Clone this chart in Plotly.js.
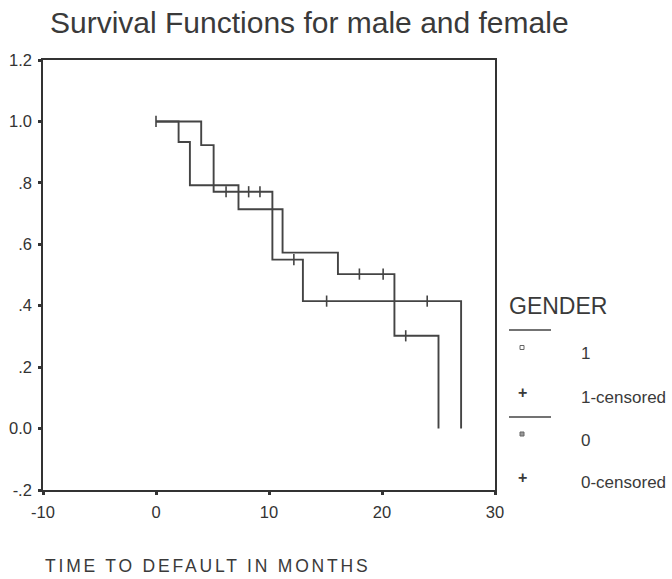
<!DOCTYPE html>
<html>
<head>
<meta charset="utf-8">
<script src="https://cdn.plot.ly/plotly-3.0.1.min.js"></script>
<style>html,body{margin:0;padding:0;background:#fff;}#chart{width:672px;height:579px;}</style>
</head>
<body>
<div id="chart"></div>
<script>
// Survival step curves (Kaplan-Meier)
var timeA = [0, 2, 3, 7.3, 11.2, 16.1, 21.1, 25];
var survA = [1.0, 0.933, 0.792, 0.714, 0.573, 0.503, 0.302, 0.0];
var censTimeA = [18, 20.1, 22.1];
var censSurvA = [0.503, 0.503, 0.302];

var timeB = [0, 4, 5.1, 10.3, 13, 27];
var survB = [1.0, 0.923, 0.771, 0.55, 0.415, 0.0];
var censTimeB = [0, 6.2, 8.2, 9.2, 12.2, 15.1, 24];
var censSurvB = [1.0, 0.771, 0.771, 0.771, 0.55, 0.415, 0.415];

var xTicks = [-10, 0, 10, 20, 30];
var yTicks = [-0.2, 0, 0.2, 0.4, 0.6, 0.8, 1.0, 1.2];
var yTickText = ['-.2', '0.0', '.2', '.4', '.6', '.8', '1.0', '1.2'];
var chartTitle = 'Survival Functions for male and female';
var xTitle = 'TIME TO DEFAULT IN MONTHS';
var legendTitle = 'GENDER';
var legendLabels = ['1', '1-censored', '0', '0-censored'];

var ink = '#444';
var font = 'Liberation Sans, Arial, sans-serif';

var traces = [
  {x: timeA, y: survA, mode: 'lines', line: {shape: 'hv', color: ink, width: 1.9}, showlegend: false, hoverinfo: 'skip'},
  {x: timeB, y: survB, mode: 'lines', line: {shape: 'hv', color: ink, width: 1.9}, showlegend: false, hoverinfo: 'skip'},
  {x: censTimeA, y: censSurvA, mode: 'markers', marker: {symbol: 'line-ns', size: 8, line: {color: ink, width: 1.6}}, showlegend: false, hoverinfo: 'skip'},
  {x: censTimeB, y: censSurvB, mode: 'markers', marker: {symbol: 'line-ns', size: 8, line: {color: ink, width: 1.6}}, showlegend: false, hoverinfo: 'skip'}
];

// legend and titles placed in paper coords: px -> paper
function px(v){ return (v - 43) / 452; }
function py(v){ return (490 - v) / 430; }

function label(x, y, text, size, anchor){
  return {xref: 'paper', yref: 'paper', x: px(x), y: py(y), xanchor: anchor || 'left', yanchor: 'middle',
          text: text, showarrow: false, borderpad: 0, font: {family: font, size: size, color: '#3a3a3a'}};
}

var annotations = [
  label(49, 23, chartTitle, 30),
  label(44, 566, '<span style="letter-spacing:2.8px">' + xTitle + '</span>', 17.5),
  label(508, 306, legendTitle, 23),
  label(580, 353, legendLabels[0], 17),
  label(580, 397, legendLabels[1], 17),
  label(580, 440, legendLabels[2], 17),
  label(580, 482, legendLabels[3], 17),
  label(522, 392, '<b>+</b>', 16, 'center'),
  label(522, 477, '<b>+</b>', 16, 'center')
];

var shapes = [
  {type: 'line', xref: 'paper', yref: 'paper', x0: px(509), x1: px(551), y0: py(330), y1: py(330), line: {color: ink, width: 1.5}},
  {type: 'line', xref: 'paper', yref: 'paper', x0: px(509), x1: px(551), y0: py(417), y1: py(417), line: {color: ink, width: 1.5}},
  {type: 'rect', xref: 'paper', yref: 'paper', x0: px(520), x1: px(524), y0: py(345.5), y1: py(349.5), line: {color: '#666', width: 1}, fillcolor: '#fff'},
  {type: 'rect', xref: 'paper', yref: 'paper', x0: px(520), x1: px(524), y0: py(432), y1: py(436), line: {color: '#666', width: 1}, fillcolor: '#999'}
];

var axisCommon = {showgrid: false, zeroline: false, showline: true, mirror: true, linecolor: '#333', linewidth: 1.8,
  ticks: 'outside', ticklen: 3, tickwidth: 3, tickcolor: '#333',
  tickfont: {family: font, size: 16.5, color: '#333'}};

var layout = {
  width: 672, height: 579,
  margin: {l: 43, r: 177, t: 60, b: 89, pad: 0},
  paper_bgcolor: '#fff', plot_bgcolor: '#fff',
  showlegend: false,
  xaxis: Object.assign({range: [-10, 30], tickvals: xTicks, ticktext: xTicks.map(String), ticklabelstandoff: 3}, axisCommon),
  yaxis: Object.assign({range: [-0.2, 1.2], tickvals: yTicks, ticktext: yTickText, ticklabelstandoff: 3}, axisCommon),
  annotations: annotations,
  shapes: shapes
};

Plotly.newPlot('chart', traces, layout, {displayModeBar: false, staticPlot: true});
</script>
</body>
</html>
